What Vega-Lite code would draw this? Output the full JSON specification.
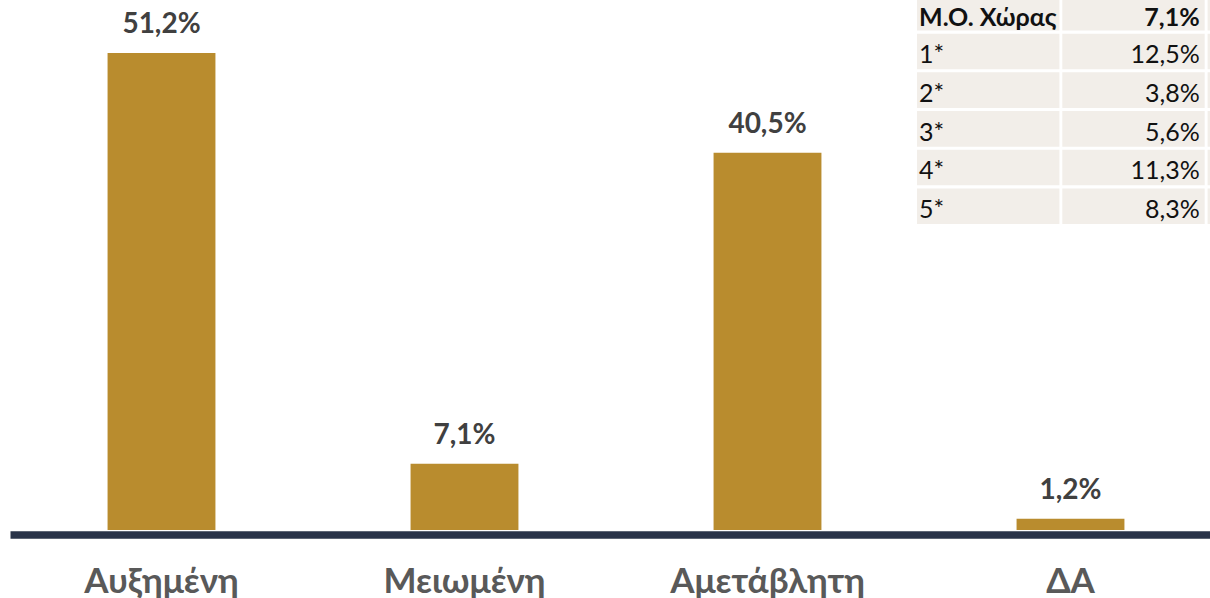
{
  "$schema": "https://vega.github.io/schema/vega-lite/v6.json",
  "width": 1212,
  "height": 530,
  "autosize": "none",
  "padding": {"left": 10, "top": 0, "right": 0, "bottom": 68},
  "background": "white",
  "config": {
    "view": {"stroke": null},
    "locale": {"number": {"decimal": ",", "thousands": ".", "grouping": [3], "currency": ["", " €"]}}
  },
  "resolve": {"scale": {"x": "independent", "y": "independent"}},
  "layer": [
    {
      "data": {"values": [
        {"answer": "Αυξημένη", "share": 0.512},
        {"answer": "Μειωμένη", "share": 0.071},
        {"answer": "Αμετάβλητη", "share": 0.405},
        {"answer": "ΔΑ", "share": 0.012}
      ]},
      "encoding": {
        "x": {"field": "answer", "type": "nominal", "sort": null,
          "scale": {"paddingInner": 0.644, "paddingOuter": 0.322},
          "axis": {"title": null, "domainColor": "#2a3449", "domainWidth": 7.5, "offset": 4.5,
            "ticks": false, "grid": false, "labelAngle": 0, "labelFont": "Lato", "labelFontSize": 35,
            "labelFontWeight": "bold", "labelColor": "#595959", "labelPadding": 30, "labelLimit": 0}},
        "y": {"field": "share", "type": "quantitative", "scale": {"domain": [0, 0.569]}, "axis": null}
      },
      "layer": [
        {"mark": {"type": "bar", "color": "#b98c2e"}},
        {"mark": {"type": "text", "baseline": "alphabetic", "dy": -20, "font": "Lato", "fontSize": 28,
            "fontWeight": "bold", "color": "#404040"},
         "encoding": {"text": {"field": "share", "type": "quantitative", "format": ".1%"}}}
      ]
    },
    {
      "data": {"values": [
        {"row": "Μ.Ο. Χώρας", "share": 0.071},
        {"row": "1*", "share": 0.125},
        {"row": "2*", "share": 0.038},
        {"row": "3*", "share": 0.056},
        {"row": "4*", "share": 0.113},
        {"row": "5*", "share": 0.083}
      ]},
      "encoding": {
        "y": {"field": "row", "type": "nominal", "sort": null,
          "scale": {"type": "band", "range": [-5, 224], "paddingInner": 0.08, "paddingOuter": 0}, "axis": null}
      },
      "layer": [
        {"mark": {"type": "rect", "color": "#f2eee9"},
         "encoding": {"x": {"datum": "c1", "type": "nominal",
            "scale": {"type": "band", "domain": ["c1", "c2", "c3"], "range": [907, 1340], "paddingInner": 0.02, "paddingOuter": 0},
            "axis": null}}},
        {"mark": {"type": "rect", "color": "#f2eee9"},
         "encoding": {"x": {"datum": "c2", "type": "nominal"}}},
        {"mark": {"type": "rect", "color": "#f2eee9"},
         "encoding": {"x": {"datum": "c3", "type": "nominal"}}},
        {"transform": [{"filter": "datum.row === 'Μ.Ο. Χώρας'"}],
         "mark": {"type": "text", "align": "left", "baseline": "alphabetic", "dx": 2, "dy": -5, "font": "Lato", "fontSize": 25, "fontWeight": "bold", "color": "#111111"},
         "encoding": {"x": {"datum": "c1", "type": "nominal", "bandPosition": 0},
           "y": {"field": "row", "type": "nominal", "sort": null, "bandPosition": 1}, "text": {"field": "row"}}},
        {"transform": [{"filter": "datum.row !== 'Μ.Ο. Χώρας'"}],
         "mark": {"type": "text", "align": "left", "baseline": "alphabetic", "dx": 2, "dy": -6, "font": "Lato", "fontSize": 25, "color": "#111111"},
         "encoding": {"x": {"datum": "c1", "type": "nominal", "bandPosition": 0},
           "y": {"field": "row", "type": "nominal", "sort": null, "bandPosition": 1}, "text": {"field": "row"}}},
        {"transform": [{"filter": "datum.row === 'Μ.Ο. Χώρας'"}],
         "mark": {"type": "text", "align": "right", "baseline": "alphabetic", "dx": -5, "dy": -5, "font": "Lato", "fontSize": 25, "fontWeight": "bold", "color": "#111111"},
         "encoding": {"x": {"datum": "c2", "type": "nominal", "bandPosition": 1},
           "y": {"field": "row", "type": "nominal", "sort": null, "bandPosition": 1}, "text": {"field": "share", "type": "quantitative", "format": ".1%"}}},
        {"transform": [{"filter": "datum.row !== 'Μ.Ο. Χώρας'"}],
         "mark": {"type": "text", "align": "right", "baseline": "alphabetic", "dx": -5, "dy": -6, "font": "Lato", "fontSize": 25, "color": "#111111"},
         "encoding": {"x": {"datum": "c2", "type": "nominal", "bandPosition": 1},
           "y": {"field": "row", "type": "nominal", "sort": null, "bandPosition": 1}, "text": {"field": "share", "type": "quantitative", "format": ".1%"}}}
      ]
    }
  ]
}
